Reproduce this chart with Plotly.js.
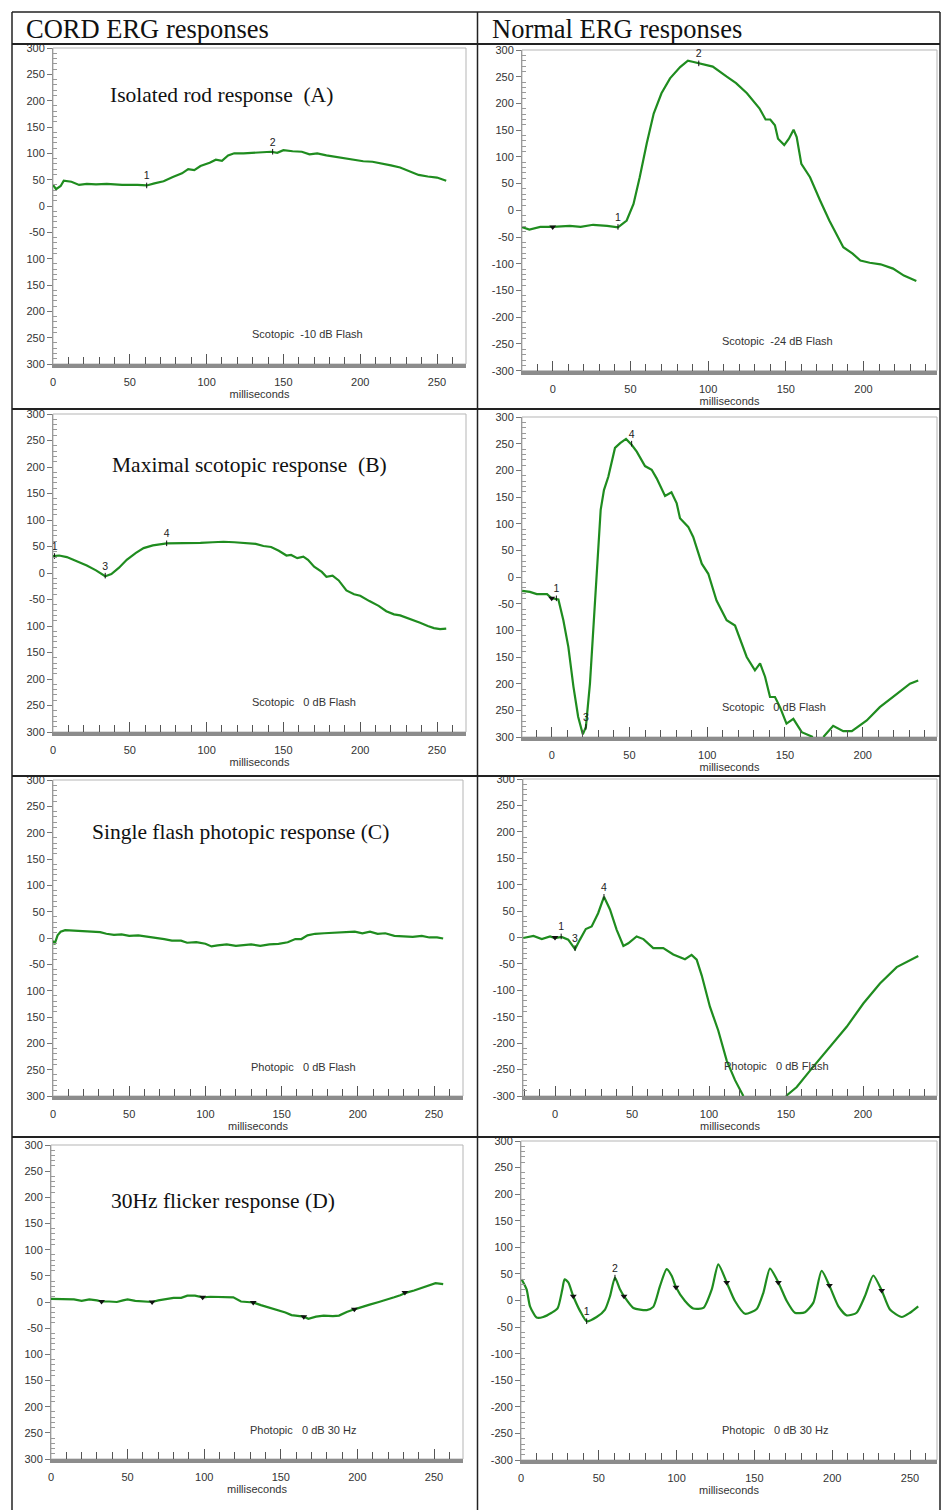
<!DOCTYPE html>
<html><head><meta charset="utf-8">
<script src="https://cdn.plot.ly/plotly-3.0.1.min.js"></script>
<style>body{margin:0;background:#fff}#chart{width:941px;height:1510px}</style>
</head><body><div id="chart"></div>
<script>
// ---------- DATA (ms, microvolts) ----------
// CORD (A) Isolated rod response, Scotopic -10 dB
const cordRodT = [0,2,5,7,12,17,22,28,35,45,55,61,66,72,78,84,88,92,96,102,106,110,114,118,124,130,136,142,146,150,156,162,167,172,178,184,190,196,202,208,214,220,226,232,238,244,250,256];
const cordRodV = [40,32,38,48,46,40,42,41,42,40,40,39,43,47,55,62,70,68,76,82,88,86,96,100,100,101,103,103,101,106,104,103,98,100,96,93,90,87,85,84,81,77,73,66,59,56,54,48];
const cordRodLabT = [61,143], cordRodLabV = [39,103], cordRodLab = ['1','2'];

// CORD (B) Maximal scotopic response, 0 dB
const cordMaxT = [0,4,9,15,22,28,34,38,43,48,54,59,65,74,80,88,96,104,111,118,126,132,137,142,147,152,155,159,163,166,170,175,178,182,186,191,196,200,206,212,217,222,226,232,239,244,248,252,256];
const cordMaxV = [32,33,30,23,14,5,-6,-2,10,25,38,47,52,56,56,56,57,58,59,58,56,55,51,49,42,33,34,28,31,25,12,2,-7,-5,-14,-33,-40,-43,-53,-62,-72,-78,-80,-86,-94,-100,-104,-106,-105];
const cordMaxLabT = [1,34,74], cordMaxLabV = [32,-5,56], cordMaxLab = ['1','3','4'];

// CORD (C) Single flash photopic response, 0 dB
const cordPhotT = [0,1,3,5,8,14,20,26,31,35,40,45,50,56,62,68,73,78,84,88,94,100,104,108,114,120,124,130,136,142,148,154,159,163,167,172,178,185,192,198,203,208,213,218,224,230,236,242,247,252,256];
const cordPhotV = [-5,-12,5,12,15,14,14,13,11,8,6,7,4,5,3,1,-2,-5,-5,-9,-8,-11,-16,-14,-12,-15,-14,-12,-15,-12,-11,-8,-2,-2,5,8,9,10,11,12,9,12,8,9,4,3,2,4,1,1,-1];

// CORD (D) 30Hz flicker response
const cordFlickT = [0,5,10,15,20,25,30,33,38,43,47,50,55,60,66,70,75,80,85,89,94,99,104,110,115,119,124,128,132,137,142,148,153,157,162,165,168,173,178,184,188,193,198,203,208,214,219,224,228,232,237,242,247,251,256];
const cordFlickV = [6,6,6,5,2,5,3,1,1,0,3,5,2,1,0,3,5,8,8,12,12,9,10,10,10,9,1,0,-1,-6,-10,-15,-20,-25,-26,-28,-32,-28,-26,-27,-26,-19,-14,-9,-5,0,4,9,13,18,22,27,31,36,34];
const cordFlickTriT = [33,66,99,132,165,198,231], cordFlickTriV = [1,0,9,-1,-28,-14,18];

// NORMAL rod, Scotopic -24 dB
const normRodT = [-20,-15,-8,0,11,18,26,35,42,47.6,52,56,60.5,65,70,75.5,82,87,90,94,103,112,118,125,133,137,140,143,145,149,152,155,157,160,165.6,172,178,187,193,198,204,211,219,226,234];
const normRodV = [-31,-36,-31,-31,-29,-31,-27,-29,-32,-19,12,62,125,181,219,247,268,280,278,275,269,250,238,219,191,170,170,159,134,122,134,151,137,87,62,19,-19,-69,-81,-94,-98,-101,-109,-122,-132];
const normRodLabT = [42,94], normRodLabV = [-31,275], normRodLab = ['1','2'];
const normRodTriT = [0], normRodTriV = [-31];

// NORMAL maximal scotopic, 0 dB
const normMaxT = [-19,-14,-9.6,-3,0,4.3,7.5,10.7,14,17,20,22,24.6,27.8,29.3,31.5,33.6,36.4,40.7,44,47.8,51.4,54.7,60,64.3,67.5,72.9,77,80.4,82.5,87.8,91,96.5,100.7,106,109.3,112.5,117.9,125.4,130.7,134,137.2,140.4,143.6,146.8,151,155.4,160.8,168,171,174.7,181,187.5,193,202.6,211,222,230.4,235.7];
const normMaxV = [-26,-28,-32,-32,-40,-42,-81,-131,-206,-262,-295,-281,-200,-56,13,126,163,188,242,251,259,248,235,208,201,185,152,159,138,110,94,75,25,6,-44,-63,-81,-91,-150,-175,-162,-187,-225,-225,-244,-275,-266,-291,-300,null,-300,-279,-289,-289,-269,-244,-219,-200,-194];
const normMaxLabT = [3,22,51.4], normMaxLabV = [-40,-281,250], normMaxLab = ['1','3','4'];
const normMaxTriT = [0], normMaxTriV = [-40];

// NORMAL single flash photopic, 0 dB
const normPhotT = [-20.6,-14,-8.6,-3.2,0,4.3,8.6,13,16.2,20,23.8,28,31.8,35.7,40,44.4,47.6,53,57.4,63.8,70.3,76.8,84.4,88.7,92,95.3,100.6,106,111.5,116.9,122.3,136,150,157,165.6,176.4,189.4,200.2,211,221.9,230.5,235.9];
const normPhotV = [-1,3,-3,2,-1,1,-4,-22,-4,16,21,46,77,53,15,-16,-11,2,-3,-20,-20,-32,-41,-33,-42,-72,-131,-176,-233,-270,-300,null,-300,-283,-252,-214,-169,-125,-87,-56,-43,-35];
const normPhotLabT = [4,13,31.8], normPhotLabV = [2,-20,77], normPhotLab = ['1','3','4'];
const normPhotTriT = [0], normPhotTriV = [0];

// NORMAL 30Hz flicker
const normFlickT = [0.4,3.6,5.8,10,14.3,19.7,23.5,26.5,28,30.4,33.6,38,42.2,48.6,54,57.2,60.4,63.6,66.2,72.2,80.8,85,89.3,93.6,96.9,99.6,105.4,110.7,117.2,122.6,126.8,132.2,137.5,144,151.5,155.8,160,165.4,170.8,176,182.5,187.9,193.2,198.2,204,209.3,215.7,221,226.4,231.8,237.1,244.7,250,255.3];
const normFlickV = [40,21,-11,-32,-31,-23,-15,20,40,34,8,-20,-39,-31,-17,8,43,21,8,-14,-18,-12,27,59,46,25,-1,-15,-14,21,68,34,-1,-25,-16,15,60,34,-1,-23,-22,-4,56,28,-11,-28,-23,8,47,19,-17,-31,-23,-11];
const normFlickLabT = [42.2,60.4], normFlickLabV = [-39,43], normFlickLab = ['1','2'];
const normFlickTriT = [33.6,66.2,99.6,132.2,165.4,198.2,231.8], normFlickTriV = [8,8,25,34,34,28,19];

// tick labels
const yVals = [300,250,200,150,100,50,0,-50,-100,-150,-200,-250,-300];
const yTextCut = ['300','250','200','150','100','50','0','-50','100','150','200','250','300'];
const yTextFull = ['300','250','200','150','100','50','0','-50','-100','-150','-200','-250','-300'];
const xVals = [0,50,100,150,200,250];
const xText = ['0','50','100','150','200','250'];

const headLeft = 'CORD ERG responses', headRight = 'Normal ERG responses';
const NB = '\u00a0';

// ---------- LAYOUT ----------
const W = 941, H = 1510;
const fx = p => p / W, fy = p => 1 - p / H;
const yMinor = []; for (let v = -300; v <= 300; v += 10) if (v % 50) yMinor.push(v);
const xMinor = []; for (let v = -20; v <= 270; v += 10) if (v % 50) xMinor.push(v);

const panels = [
 {t:cordRodT, v:cordRodV, lt:cordRodLabT, lv:cordRodLabV, ls:cordRodLab, tt:[], tv:[],
  x0:53, x1:466, zero:53, sc:1.536, yT:48, yB:364, yText:yTextCut,
  cond:'Scotopic'+NB+NB+'-10 dB Flash', cx:250, cy:334, title:'Isolated rod response'+NB+NB+'(A)', tx:108, ty:95},
 {t:normRodT, v:normRodV, lt:normRodLabT, lv:normRodLabV, ls:normRodLab, tt:normRodTriT, tv:normRodTriV,
  x0:522, x1:937, zero:552.7, sc:1.554, yT:50, yB:370.7, yText:yTextFull,
  cond:'Scotopic'+NB+NB+'-24 dB Flash', cx:720, cy:341},
 {t:cordMaxT, v:cordMaxV, lt:cordMaxLabT, lv:cordMaxLabV, ls:cordMaxLab, tt:[], tv:[],
  x0:53, x1:466, zero:53, sc:1.536, yT:414, yB:732, yText:yTextCut,
  cond:'Scotopic'+NB+NB+NB+'0 dB Flash', cx:250, cy:702, title:'Maximal scotopic response'+NB+NB+'(B)', tx:110, ty:465},
 {t:normMaxT, v:normMaxV, lt:normMaxLabT, lv:normMaxLabV, ls:normMaxLab, tt:normMaxTriT, tv:normMaxTriV,
  x0:522, x1:937, zero:551.7, sc:1.555, yT:417, yB:737, yText:yTextCut,
  cond:'Scotopic'+NB+NB+NB+'0 dB Flash', cx:720, cy:707},
 {t:cordPhotT, v:cordPhotV, lt:[], lv:[], ls:[], tt:[], tv:[],
  x0:53, x1:463, zero:53, sc:1.524, yT:780, yB:1096, yText:yTextCut,
  cond:'Photopic'+NB+NB+NB+'0 dB Flash', cx:249, cy:1067, title:'Single flash photopic response (C)', tx:90, ty:832},
 {t:normPhotT, v:normPhotV, lt:normPhotLabT, lv:normPhotLabV, ls:normPhotLab, tt:normPhotTriT, tv:normPhotTriV,
  x0:523, x1:937, zero:555, sc:1.54, yT:779, yB:1096, yText:yTextFull,
  cond:'Photopic'+NB+NB+NB+'0 dB Flash', cx:722, cy:1066},
 {t:cordFlickT, v:cordFlickV, lt:[], lv:[], ls:[], tt:cordFlickTriT, tv:cordFlickTriV,
  x0:51, x1:463, zero:51, sc:1.532, yT:1145, yB:1459, yText:yTextCut,
  cond:'Photopic'+NB+NB+NB+'0 dB 30 Hz', cx:248, cy:1430, title:'30Hz flicker response (D)', tx:109, ty:1201},
 {t:normFlickT, v:normFlickV, lt:normFlickLabT, lv:normFlickLabV, ls:normFlickLab, tt:normFlickTriT, tv:normFlickTriV,
  x0:521, x1:937, zero:521, sc:1.556, yT:1141, yB:1460, yText:yTextFull,
  cond:'Photopic'+NB+NB+NB+'0 dB 30 Hz', cx:720, cy:1430, spline:true}
];

const SANS = 'Liberation Sans, Arial, sans-serif';
const SERIF = 'Liberation Serif, Times New Roman, serif';
const traces = [];
const layout = {
  width: W, height: H, margin: {l:0, r:0, t:0, b:0},
  paper_bgcolor: '#fff', plot_bgcolor: '#fff', showlegend: false,
  font: {family: SANS, color: '#333'},
  shapes: [], annotations: []
};

panels.forEach((p, i) => {
  const n = i + 1, sfx = n === 1 ? '' : String(n);
  const xa = 'x' + sfx, ya = 'y' + sfx;
  traces.push({x: p.t, y: p.v, xaxis: xa, yaxis: ya, type: 'scatter', mode: 'lines',
    line: {color: '#1f8c1f', width: 2.2, shape: p.spline ? 'spline' : 'linear', smoothing: 0.6},
    connectgaps: false, hoverinfo: 'skip'});
  if (p.tt.length) traces.push({x: p.tt, y: p.tv, xaxis: xa, yaxis: ya, type: 'scatter', mode: 'markers',
    marker: {symbol: 'triangle-down', size: 6, color: '#111'}, hoverinfo: 'skip', cliponaxis: false});
  if (p.lt.length) traces.push({x: p.lt, y: p.lv, text: p.ls, xaxis: xa, yaxis: ya, type: 'scatter', mode: 'markers+text',
    marker: {symbol: 'line-ns-open', size: 4, color: '#111', line: {width: 1, color: '#111'}},
    textposition: 'top center', textfont: {family: SANS, size: 10.5, color: '#222'}, hoverinfo: 'skip', cliponaxis: false});

  layout['xaxis' + sfx] = {
    domain: [fx(p.x0), fx(p.x1)], anchor: ya,
    range: [(p.x0 - p.zero) / p.sc, (p.x1 - p.zero) / p.sc],
    showgrid: false, zeroline: false, showline: true, linecolor: '#8c8c8c', linewidth: 4,
    tickmode: 'array', tickvals: xVals, ticktext: xText,
    ticks: 'inside', ticklen: 10, tickwidth: 1, tickcolor: '#555',
    minor: {tickmode: 'array', tickvals: xMinor, ticks: 'inside', ticklen: 7, tickwidth: 1, tickcolor: '#555'},
    tickfont: {family: SANS, size: 11, color: '#333'}, ticklabelstandoff: 5,
    title: {text: 'milliseconds', font: {family: SANS, size: 11, color: '#333'}, standoff: 1},
    automargin: false, fixedrange: true
  };
  layout['yaxis' + sfx] = {
    domain: [fy(p.yB), fy(p.yT)], anchor: xa,
    range: [-300, 300],
    showgrid: false, zeroline: false, showline: true, linecolor: '#9a9a9a', linewidth: 1,
    tickmode: 'array', tickvals: yVals, ticktext: p.yText,
    ticks: 'outside', ticklen: 5, tickwidth: 1, tickcolor: '#777',
    minor: {tickmode: 'array', tickvals: yMinor, ticks: 'inside', ticklen: 4, tickwidth: 1, tickcolor: '#999'},
    tickfont: {family: SANS, size: 11, color: '#333'},
    automargin: false, fixedrange: true
  };
  // light plot frame
  layout.shapes.push({type: 'rect', xref: xa + ' domain', yref: ya + ' domain', x0: 0, x1: 1, y0: 0, y1: 1,
    line: {color: '#b5b5b5', width: 1}, layer: 'below'});
  layout.annotations.push({xref: 'paper', yref: 'paper', x: fx(p.cx), y: fy(p.cy), xanchor: 'left', yanchor: 'middle',
    text: p.cond, showarrow: false, font: {family: SANS, size: 11, color: '#333'}});
  if (p.title) layout.annotations.push({xref: 'paper', yref: 'paper', x: fx(p.tx), y: fy(p.ty), xanchor: 'left', yanchor: 'middle',
    text: p.title, showarrow: false, font: {family: SERIF, size: 21.5, color: '#111'}});
});

// header texts
layout.annotations.push({xref: 'paper', yref: 'paper', x: fx(24), y: fy(29), xanchor: 'left', yanchor: 'middle',
  text: headLeft, showarrow: false, font: {family: SERIF, size: 26.5, color: '#111'}});
layout.annotations.push({xref: 'paper', yref: 'paper', x: fx(490), y: fy(29), xanchor: 'left', yanchor: 'middle',
  text: headRight, showarrow: false, font: {family: SERIF, size: 26.5, color: '#111'}});

// table grid lines
const hl = (y, w) => layout.shapes.push({type: 'line', xref: 'paper', yref: 'paper', x0: fx(12), x1: fx(940), y0: fy(y), y1: fy(y), line: {color: '#222', width: w}});
const vl = (x, w) => layout.shapes.push({type: 'line', xref: 'paper', yref: 'paper', x0: fx(x), x1: fx(x), y0: fy(12), y1: fy(1510), line: {color: '#222', width: w}});
hl(12, 1.5); hl(44, 2); hl(409, 2); hl(776, 2); hl(1137, 2);
vl(12, 1.5); vl(477.5, 1.5); vl(940, 1.5);

Plotly.newPlot('chart', traces, layout, {staticPlot: true, displayModeBar: false});
</script></body></html>
